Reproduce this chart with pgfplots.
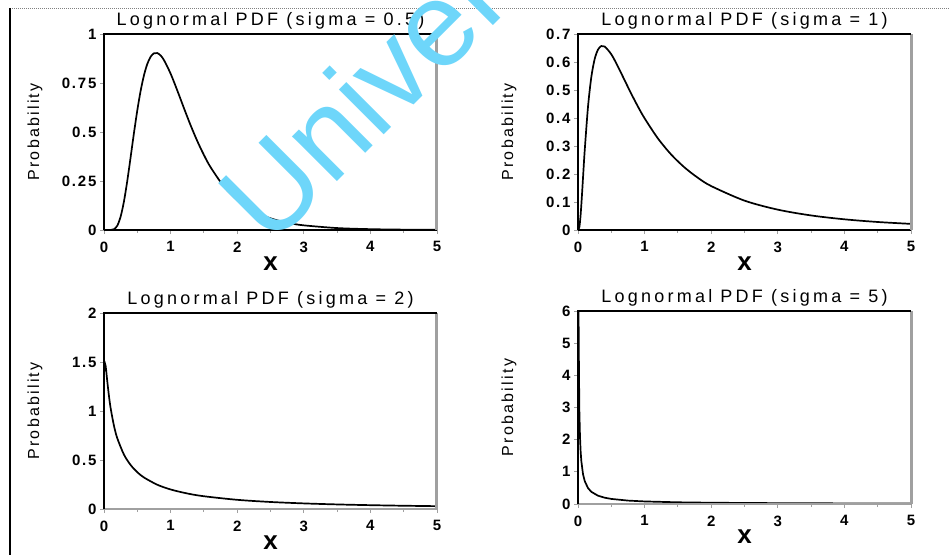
\documentclass[border=0pt]{standalone}
\usepackage{fontspec}
\setmainfont{Liberation Sans}
\newfontfamily\titlefont[LetterSpace=18]{Liberation Sans}
\newfontfamily\labelfont[LetterSpace=14]{Liberation Sans}
\newfontfamily\tickfont[LetterSpace=12]{Liberation Sans}
\usepackage{pgfplots}
\pgfplotsset{compat=1.18}

\definecolor{wm}{RGB}{110,214,250}
\definecolor{axgray}{RGB}{160,160,160}

\pgfplotsset{
  lnpanel/.style={
    scale only axis, width=333pt, height=196pt,
    xmin=0, xmax=5, ymin=0,
    xtick={0,1,2,3,4,5},
    minor x tick num=1,
    axis line style={draw=none},
    tick align=outside, tick pos=left,
    major tick length=4pt, minor tick length=3pt,
    tick style={axgray, line width=0.9pt},
    /pgf/number format/assume math mode=true,
    ticklabel style={font=\fontsize{15}{15}\selectfont\tickfont\bfseries},
    xticklabel style={yshift=-4pt},
    title style={font=\fontsize{18}{18}\selectfont\titlefont,
      at={(axis description cs:0.5,1.015)}, anchor=base},
    ylabel={Probability},
    ylabel style={font=\fontsize{16}{16}\selectfont\labelfont,
      at={(axis description cs:-0.207,0.5)}, anchor=center},
    xlabel={x},
    xlabel style={font=\fontsize{26}{26}\selectfont\bfseries,
      at={(axis description cs:0.5,-0.17)}, anchor=center},
    clip mode=individual,
  },
  curve/.style={black, line width=1.7pt, no marks},
}

% box lines: black on left and top, grey on right (and bottom in lower row)
\newcommand{\panelbox}[1]{%
  \draw[#1, line width=1.6pt] (rel axis cs:0,0) -- (rel axis cs:1,0);
  \draw[axgray, line width=3pt] (rel axis cs:1,0) -- (rel axis cs:1,1);
  \draw[black, line width=2.4pt] (rel axis cs:0,0) -- (rel axis cs:0,1) -- (rel axis cs:1,1);
}

\begin{document}
\begin{tikzpicture}
\useasboundingbox (0,0) rectangle (949pt,-555pt);

% outer frame of the scan
\draw[black, line width=2.5pt] (10pt,-8pt) -- (10pt,-555pt);
\draw[gray, densely dotted, line width=1pt] (12pt,-8pt) -- (949pt,-8pt);

% sigma = 0.5
\begin{axis}[lnpanel, at={(104pt,-34pt)}, anchor=north west,
  ymax=1, ytick={0,0.25,0.5,0.75,1},
  title={Lognormal PDF (sigma = 0.5)}]
\addplot[curve, smooth] coordinates {
 (0,0) (0.1,0.0002) (0.15,0.004) (0.2,0.0225) (0.25,0.0684) (0.3,0.1465)
 (0.35,0.2515) (0.4,0.3722) (0.45,0.4953) (0.5,0.6104) (0.55,0.7098)
 (0.6,0.7891) (0.65,0.8469) (0.7,0.8838) (0.75,0.9016) (0.8,0.9028)
 (0.85,0.8904) (0.9,0.8671) (1.0,0.7979) (1.1,0.7123) (1.2,0.6221)
 (1.3,0.5348) (1.4,0.4544) (1.5,0.3829) (1.6,0.3206) (1.8,0.2221)
 (2.0,0.1526) (2.2,0.1046) (2.4,0.0718) (2.6,0.0494) (2.8,0.0342)
 (3.0,0.0238) (3.5,0.0099) (4.0,0.0043) (4.5,0.0019) (5.0,0.0009)
};
\panelbox{black}
\end{axis}

% sigma = 1
\begin{axis}[lnpanel, at={(578pt,-34pt)}, anchor=north west,
  ymax=0.7, ytick={0,0.1,0.2,0.3,0.4,0.5,0.6,0.7},
  title={Lognormal PDF (sigma = 1)}]
\addplot[curve, smooth] coordinates {
 (0,0) (0.02,0.0095) (0.04,0.0562) (0.06,0.1271) (0.08,0.2054) (0.1,0.2815)
 (0.15,0.4398) (0.2,0.5463) (0.25,0.6104) (0.3,0.6442) (0.35,0.6570)
 (0.4,0.6554) (0.5,0.6275) (0.6,0.5836) (0.7,0.5348) (0.8,0.4864)
 (0.9,0.4408) (1.0,0.3989) (1.2,0.3270) (1.4,0.2693) (1.6,0.2233)
 (1.8,0.1865) (2.0,0.1569) (2.5,0.1049) (3.0,0.0727) (3.5,0.0520)
 (4.0,0.0382) (4.5,0.0286) (5.0,0.0219)
};
\panelbox{black}
\end{axis}

% sigma = 2
\begin{axis}[lnpanel, at={(104pt,-313pt)}, anchor=north west,
  ymax=2, ytick={0,0.5,1,1.5,2},
  title={Lognormal PDF (sigma = 2)}]
\addplot[curve, smooth] coordinates {
 (0.01,1.4077) (0.02,1.4724) (0.03,1.4297) (0.05,1.2993) (0.075,1.1497)
 (0.1,1.0281) (0.15,0.8480) (0.2,0.7215) (0.3,0.5547) (0.4,0.4490)
 (0.5,0.3757) (0.6,0.3218) (0.8,0.2478) (1.0,0.1995) (1.25,0.1586)
 (1.5,0.1303) (2.0,0.0939) (2.5,0.0718) (3.0,0.0572) (3.5,0.0468)
 (4.0,0.0392) (4.5,0.0334) (5.0,0.0289)
};
\panelbox{axgray}
\end{axis}

% sigma = 5
\begin{axis}[lnpanel, at={(578pt,-311pt)}, anchor=north west,
  height=193pt,
  ymax=6, ytick={0,1,2,3,4,5,6},
  title={Lognormal PDF (sigma = 5)}]
\addplot[curve] coordinates {
 (0.005,9.10) (0.01,5.22) (0.02,2.937) (0.03,2.080) (0.04,1.6215)
 (0.05,1.334) (0.075,0.9303) (0.1,0.7176) (0.15,0.4950) (0.2,0.3788)
 (0.3,0.2584) (0.4,0.1962) (0.5,0.1580) (0.75,0.1062) (1.0,0.0798)
 (1.5,0.0530) (2.0,0.0395) (3.0,0.0260) (4.0,0.0192) (5.0,0.0152)
};
\panelbox{axgray}
\end{axis}

% watermark of the scanned source
\begin{scope}
\clip (0,0) rectangle (949pt,-555pt);
\node[rotate=45, anchor=base west, inner sep=0pt, text=wm,
  font=\fontsize{120}{120}\selectfont] at (270pt,-249pt) {University};
\end{scope}
\end{tikzpicture}
\end{document}
